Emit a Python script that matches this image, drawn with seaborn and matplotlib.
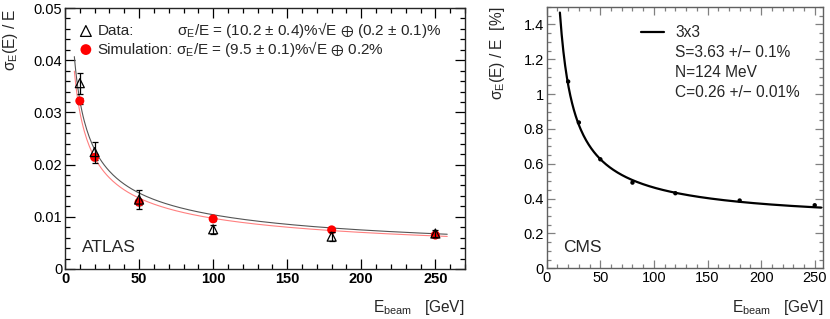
import numpy as np
import pandas as pd
import matplotlib
matplotlib.use("Agg")
import matplotlib.pyplot as plt
import seaborn as sns
from matplotlib.ticker import MultipleLocator, FuncFormatter
from matplotlib.lines import Line2D

# ---------------- data ----------------
# ATLAS panel
atlas_energy = [10, 20, 50, 100, 180, 250]
data_res = [0.0356, 0.0224, 0.0133, 0.0076, 0.0062, 0.0068]
data_err = [0.0020, 0.0020, 0.0019, 0.0009, 0.0009, 0.0006]
sim_res = [0.0322, 0.0214, 0.0128, 0.0096, 0.0075, 0.0065]
sim_err = [0.0006, 0.0006, 0.0005, 0.0004, 0.0004, 0.0003]

# CMS panel
cms_energy = [20, 30, 50, 80, 120, 180, 250]
cms_res = [1.072, 0.837, 0.626, 0.492, 0.431, 0.389, 0.362]

# fit parameters quoted in the legends
data_stoch, data_const = 0.102, 0.002
sim_stoch, sim_const = 0.095, 0.002
cms_S, cms_N, cms_C = 3.63, 0.124, 0.26   # S [%], N [GeV], C [%]

data_label = "Data:"
sim_label = "Simulation:"
data_formula = "σ$_{\\mathrm{E}}$/E = (10.2 ± 0.4)%√E $\\oplus$ (0.2 ± 0.1)%"
sim_formula = "σ$_{\\mathrm{E}}$/E = (9.5 ± 0.1)%√E $\\oplus$ 0.2%"
cms_labels = ["3x3", "S=3.63 +/− 0.1%", "N=124 MeV", "C=0.26 +/− 0.01%"]

# ---------------- style ----------------
sns.set_theme(style="ticks")
plt.rcParams["font.family"] = ["Liberation Sans", "DejaVu Sans"]
plt.rcParams["mathtext.fontset"] = "custom"
plt.rcParams["mathtext.rm"] = "Liberation Sans"
plt.rcParams["mathtext.it"] = "Liberation Sans:italic"
plt.rcParams["mathtext.bf"] = "Liberation Sans:bold"
plt.rcParams["mathtext.fallback"] = "stixsans"
plt.rcParams["axes.linewidth"] = 1.0

W, H = 830, 319
fig = plt.figure(figsize=(W / 100, H / 100), dpi=100)
fig.patch.set_facecolor("white")

def px_axes(x0, y0, x1, y1):
    return fig.add_axes([x0 / W, 1 - y1 / H, (x1 - x0) / W, (y1 - y0) / H])

axL = px_axes(65, 8, 465, 269)
axR = px_axes(546.7, 7, 823.3, 268.3)

# ---------------- left: ATLAS ----------------
e_fit = np.linspace(6.3, 258, 300)
df_fit = pd.DataFrame({
    "E": e_fit,
    "data": np.sqrt((data_stoch / np.sqrt(e_fit)) ** 2 + data_const ** 2),
    "sim": np.sqrt((sim_stoch / np.sqrt(e_fit)) ** 2 + sim_const ** 2),
})
sns.lineplot(data=df_fit, x="E", y="data", ax=axL, color="#555555", lw=0.8, zorder=2)
sns.lineplot(data=df_fit, x="E", y="sim", ax=axL, color="#ff8080", lw=0.8, zorder=2)

axL.errorbar(atlas_energy, sim_res, yerr=sim_err, fmt="none", ecolor="black",
             elinewidth=0.9, capsize=2, capthick=0.9, zorder=3)
sns.scatterplot(x=atlas_energy, y=sim_res, ax=axL, marker="o", s=42, color="#ff0000",
                edgecolor="none", linewidth=0, zorder=4, label=sim_label)
axL.errorbar(atlas_energy, data_res, yerr=data_err, fmt="none", ecolor="black",
             elinewidth=0.9, capsize=2, capthick=0.9, zorder=5)
sns.scatterplot(x=atlas_energy, y=data_res, ax=axL, marker="^", s=42, facecolor="none",
                edgecolor="black", linewidth=0.9, zorder=6, label=data_label)

axL.set_xlim(0, 270)
axL.set_ylim(0, 0.05)
axL.xaxis.set_major_locator(MultipleLocator(50))
axL.xaxis.set_minor_locator(MultipleLocator(10))
axL.yaxis.set_major_locator(MultipleLocator(0.01))
axL.yaxis.set_minor_locator(MultipleLocator(0.002))
axL.yaxis.set_major_formatter(FuncFormatter(lambda v, p: "0" if abs(v) < 1e-9 else f"{v:.2f}"))
axL.xaxis.set_major_formatter(FuncFormatter(lambda v, p: f"{v:g}"))
axL.tick_params(which="both", direction="in", top=True, right=True, colors="black",
                labelsize=10.5, pad=2)
axL.tick_params(which="major", length=7, width=0.9)
axL.tick_params(which="minor", length=3.5, width=0.9)
for lab in axL.get_xticklabels():
    lab.set_fontweight("bold")

axL.set_xlabel("E$_{\\mathrm{beam}}$   [GeV]", loc="right", fontsize=11.2, labelpad=9)
axL.set_ylabel("σ$_{\\mathrm{E}}$(E) / E", loc="top", fontsize=11.2, labelpad=10)

h, l = axL.get_legend_handles_labels()
order = [l.index(data_label), l.index(sim_label)]
axL.legend([h[i] for i in order], [l[i] for i in order], loc="upper left",
           bbox_to_anchor=((79 - 65) / 400, 1 - (24 - 8) / 261), frameon=False,
           fontsize=11, handlelength=0.9, handletextpad=0.3, labelspacing=0.3,
           borderpad=0, borderaxespad=0, markerscale=1.2)
fig.text(177 / W, 1 - 30 / H, data_formula, fontsize=11, va="center", ha="left")
fig.text(176 / W, 1 - 49 / H, sim_formula, fontsize=11, va="center", ha="left")
fig.text(82 / W, 1 - 247 / H, "ATLAS", fontsize=12.5, va="center", ha="left")

# ---------------- right: CMS ----------------
e_cms = np.linspace(12.3, 256, 300)
df_cms = pd.DataFrame({
    "E": e_cms,
    "fit": np.sqrt((cms_S / np.sqrt(e_cms)) ** 2 + (100 * cms_N / e_cms) ** 2 + cms_C ** 2),
})
sns.lineplot(data=df_cms, x="E", y="fit", ax=axR, color="black", lw=1.6, zorder=2,
             label=cms_labels[0])
sns.scatterplot(x=cms_energy, y=cms_res, ax=axR, marker="o", s=10, color="black",
                edgecolor="none", zorder=3)

axR.set_xlim(0, 258)
axR.set_ylim(0, 1.5)
axR.xaxis.set_major_locator(MultipleLocator(50))
axR.xaxis.set_minor_locator(MultipleLocator(10))
axR.yaxis.set_major_locator(MultipleLocator(0.2))
axR.yaxis.set_minor_locator(MultipleLocator(0.05))
axR.yaxis.set_major_formatter(FuncFormatter(lambda v, p: f"{v:g}"))
axR.xaxis.set_major_formatter(FuncFormatter(lambda v, p: f"{v:g}"))
axR.tick_params(which="both", direction="in", top=True, right=True, color="#808080",
                labelcolor="black", labelsize=10.5, pad=2)
axR.tick_params(which="major", length=6, width=0.9)
axR.tick_params(which="minor", length=3, width=0.9)
for s in axR.spines.values():
    s.set_color("#606060")

axR.set_xlabel("E$_{\\mathrm{beam}}$   [GeV]", loc="right", fontsize=11.2, labelpad=9)
axR.set_ylabel("σ$_{\\mathrm{E}}$(E) / E  [%]", loc="top", fontsize=11.2, labelpad=12)

hR, lR = axR.get_legend_handles_labels()
blank = [Line2D([], [], color="none") for _ in cms_labels[1:]]
axR.legend([hR[0]] + blank, cms_labels, loc="upper left",
           bbox_to_anchor=((641 - 546.7) / 276.6, 1 - (25 - 7) / 261.3), frameon=False,
           fontsize=11.2, handlelength=1.5, handletextpad=0.7, labelspacing=0.33,
           borderpad=0, borderaxespad=0)
fig.text(563 / W, 1 - 247 / H, "CMS", fontsize=12.5, va="center", ha="left")

fig.savefig("out.png", dpi=100, facecolor="white")
